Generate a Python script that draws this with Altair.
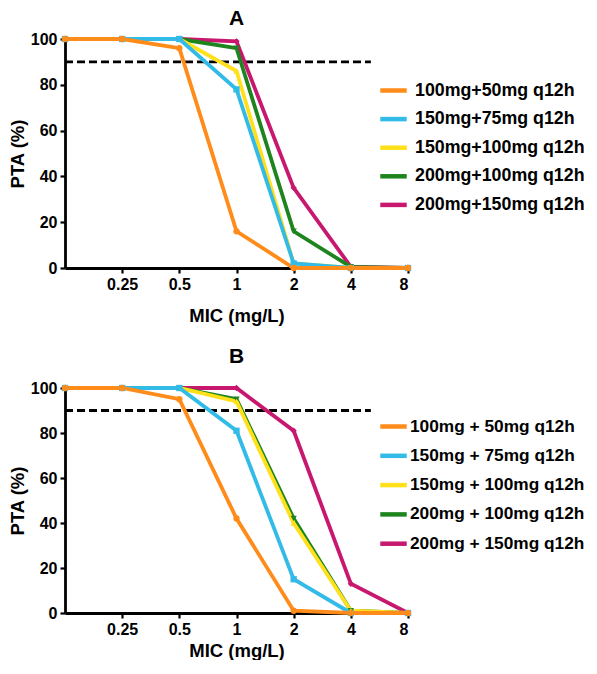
import altair as alt
import pandas as pd

mic = [0.125, 0.25, 0.5, 1, 2, 4, 8]
tick_values = [0.25, 0.5, 1, 2, 4, 8]
y_ticks = [0, 20, 40, 60, 80, 100]
target = 90
target_x = [0.125, 5.1]

series_a = ["100mg+50mg q12h", "150mg+75mg q12h", "150mg+100mg q12h",
            "200mg+100mg q12h", "200mg+150mg q12h"]
series_b = ["100mg + 50mg q12h", "150mg + 75mg q12h", "150mg + 100mg q12h",
            "200mg + 100mg q12h", "200mg + 150mg q12h"]

a_100_50 = [100, 100, 96, 16, 0, 0, 0]
a_150_75 = [100, 100, 100, 78, 2, 0, 0]
a_150_100 = [100, 100, 100, 86, 2, 0, 0]
a_200_100 = [100, 100, 100, 96, 16, 0.5, 0]
a_200_150 = [100, 100, 100, 99, 35, 0.5, 0]

b_100_50 = [100, 100, 95, 42, 1, 0, 0]
b_150_75 = [100, 100, 100, 81, 15, 0, 0]
b_150_100 = [100, 100, 100, 94, 40, 1, 0]
b_200_100 = [100, 100, 100, 95, 42, 1, 0]
b_200_150 = [100, 100, 100, 100, 81, 13, 0]

colors = ["#FF8C1A", "#33BBE8", "#FFE01A", "#1E841E", "#C8176E"]
shapes = ["circle", "square", "triangle-up", "triangle-down", "diamond"]

FONT = "Liberation Sans"
PLOT_W = 343


def make_df(names, vals):
    rows = []
    # draw order: last series first so that orange ends on top
    for k in reversed(range(len(names))):
        for m, v in zip(mic, vals[k]):
            rows.append({"mic": m, "pta": v, "series": names[k], "marker": names[k]})
    return pd.DataFrame(rows)


def panel(names, vals, title, height, title_offset, x_title_pad, label_offset, label_size,
          row_pad, legend_y):
    df = make_df(names, vals)
    x = alt.X("mic:Q", scale=alt.Scale(type="log", base=2, domain=[0.125, 8], nice=False),
              axis=alt.Axis(values=tick_values, format="~g", title="MIC (mg/L)",
                            titlePadding=x_title_pad))
    y = alt.Y("pta:Q", scale=alt.Scale(domain=[0, 100], nice=False),
              axis=alt.Axis(values=y_ticks, title="PTA (%)"))
    color_leg = alt.Color("series:N", scale=alt.Scale(domain=names, range=colors),
                          legend=alt.Legend(title=None, orient="none", legendX=313, legendY=legend_y,
                                            padding=0, symbolType="stroke", symbolStrokeWidth=4.5,
                                            symbolSize=700, labelFont=FONT, labelFontWeight="bold",
                                            labelFontSize=label_size, labelColor="black", labelLimit=0,
                                            rowPadding=row_pad, labelOffset=label_offset))
    color_pts = alt.Color("marker:N", scale=alt.Scale(domain=names, range=colors), legend=None)
    shape = alt.Shape("marker:N", scale=alt.Scale(domain=names, range=shapes), legend=None)
    base = alt.Chart(df)
    lines = base.mark_line(strokeWidth=3.8).encode(x=x, y=y, color=color_leg, detail="series:N")
    pts = base.mark_point(filled=True, size=40, opacity=1).encode(
        x=x, y=y, color=color_pts, shape=shape)
    rule_df = pd.DataFrame({"x": [target_x[0]], "x2": [target_x[1]], "y": [target]})
    rule = alt.Chart(rule_df).mark_rule(color="black", strokeWidth=2.8, strokeDash=[8, 4]).encode(
        x="x:Q", x2="x2:Q", y="y:Q")
    return alt.layer(rule, lines, pts).resolve_scale(
        color="independent", shape="independent").resolve_legend(
        color="independent", shape="independent").properties(
        width=PLOT_W, height=height,
        title=alt.Title(title, fontSize=21, font=FONT, fontWeight="bold", frame="group",
                        anchor="middle", offset=title_offset, color="black"))


top = panel(series_a, [a_100_50, a_150_75, a_150_100, a_200_100, a_200_150], "A",
            229, 2, 14, 6, 17.8, 3.6, 36)
bottom = panel(series_b, [b_100_50, b_150_75, b_150_100, b_200_100, b_200_150], "B",
               225, 13, 4, 1, 17.3, 4.3, 23)

chart = alt.vconcat(top, bottom, spacing=21).resolve_scale(
    color="independent", shape="independent").resolve_legend(
    color="independent", shape="independent").configure(
    padding={"left": 0, "top": 0, "right": 0, "bottom": 0}
).configure_view(stroke=None).configure_axis(
    grid=False, domainColor="black", domainWidth=2.8, tickColor="black", tickWidth=2.2,
    tickSize=5, labelFont=FONT, labelFontWeight="bold", labelFontSize=16, labelColor="black",
    titleFont=FONT, titleFontWeight="bold", titleFontSize=18.5, titleColor="black",
    labelPadding=3
).configure_axisY(titlePadding=3)

chart.save("out.html", embed_options={"renderer": "svg", "actions": False})
